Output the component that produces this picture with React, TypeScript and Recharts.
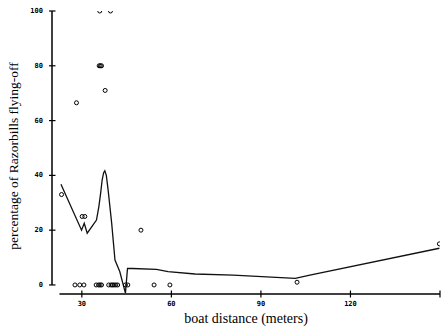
import { ComposedChart, Line, Scatter, XAxis, YAxis } from 'recharts'

// observed flights (open circles)
const obsDistance = [
  23.2, 28.2, 36.0, 39.6, 35.8, 36.2, 36.6, 37.8, 30.1, 31.0, 49.8, 149.8, 102.1,
  27.7, 29.3, 30.7, 34.8, 35.6, 36.1, 36.6, 39.0, 39.8, 40.3, 40.8, 41.4, 42.0,
  44.6, 45.4, 54.2, 59.5,
]
const obsPercent = [
  33, 66.5, 100, 100, 80, 80, 80, 71, 25, 25, 20, 15, 1,
  0, 0, 0, 0, 0, 0, 0, 0, 0, 0, 0, 0, 0,
  0, 0, 0, 0,
]

// smoothed curve
const fitDistance = [
  23.0, 29.9, 30.8, 31.8, 34.9, 35.7, 36.3, 36.8, 37.3, 37.7, 38.2, 38.8, 40.0, 40.7,
  41.1, 42.7, 44.6, 45.3, 47.0, 55.0, 58.9, 67.9, 80.7, 101.5, 106.4, 149.8,
]
const fitPercent = [
  36.8, 20.0, 22.5, 18.9, 23.7, 28.6, 33.5, 38.3, 41.0, 41.7, 40.0, 34.7, 22.5, 14.0,
  9.1, 4.9, -3.0, 6.0, 6.0, 5.7, 4.9, 4.0, 3.6, 2.4, 3.6, 13.4,
]

const xDomain = [20, 150]
const yDomain = [-3.3, 100]
const xAxisStart = 22.5

const xTicks = [30, 60, 90, 120, 150]
const xTickLabels = ['30', '60', '90', '120', '']
const yTicks = [0, 20, 40, 60, 80, 100]
const yTickLabels = ['0', '20', '40', '60', '80', '100']

const points = obsDistance.map((x, i) => ({ x, y: obsPercent[i] }))
const curve = fitDistance.map((x, i) => ({ x, y: fitPercent[i] }))

const tickFont = { fontFamily: 'DejaVu Sans Mono', fontWeight: 'bold' as const, fontSize: 7 }

function XTick(props: any) {
  const { x, y, payload } = props
  const label = xTickLabels[xTicks.indexOf(payload.value)]
  return (
    <g>
      <path d={`M${x},${y - 3.5}V${y + 3.5}`} stroke="#000" strokeWidth={1.2} />
      <text x={x} y={y + 10} textAnchor="middle" dominantBaseline="central" fill="#000" {...tickFont}>
        {label}
      </text>
    </g>
  )
}

function YTick(props: any) {
  const { x, y, payload } = props
  const label = yTickLabels[yTicks.indexOf(payload.value)]
  return (
    <g>
      <path d={`M${x - 3},${y}H${x + 3.5}`} stroke="#000" strokeWidth={1.2} />
      <text x={x - 9} y={y} textAnchor="end" dominantBaseline="central" fill="#000" {...tickFont}>
        {label}
      </text>
    </g>
  )
}

// x axis line (starts a little right of the y axis) + title
function XTitle(props: any) {
  const vb = props.viewBox
  const x0 = vb.x + (vb.width * (xAxisStart - xDomain[0])) / (xDomain[1] - xDomain[0])
  return (
    <g>
      <path d={`M${x0},${vb.y}H${vb.x + vb.width}`} stroke="#000" strokeWidth={1.5} fill="none" />
      <text
        x={vb.x + vb.width / 2}
        y={vb.y + 29}
        textAnchor="middle"
        fill="#000"
        fontSize={14}
        fontFamily="Liberation Serif"
      >
        boat distance (meters)
      </text>
    </g>
  )
}

// y axis line (from 0 to 100 only) + title
function YTitle(props: any) {
  const vb = props.viewBox
  const ax = vb.x + vb.width
  const y0 = vb.y + (vb.height * (yDomain[1] - 0)) / (yDomain[1] - yDomain[0])
  return (
    <g>
      <path d={`M${ax},${vb.y}V${y0}`} stroke="#000" strokeWidth={1.5} fill="none" />
      <text
        x={13}
        y={156}
        transform="rotate(-90, 13, 156)"
        textAnchor="middle"
        dominantBaseline="central"
        fill="#000"
        fontSize={13.5}
        fontFamily="Liberation Serif"
      >
        percentage of Razorbills flying-off
      </text>
    </g>
  )
}

const Ring = (props: any) => (
  <circle cx={props.cx} cy={props.cy} r={2} fill="none" stroke="#000" strokeWidth={1} />
)

export default function App() {
  return (
    <div style={{ position: 'absolute', left: 0, top: 0, background: '#fff' }}>
      <ComposedChart width={442} height={334} margin={{ top: 11, right: 2, left: 0, bottom: 0 }}>
        <XAxis
          type="number"
          dataKey="x"
          domain={xDomain}
          allowDataOverflow
          ticks={xTicks}
          tick={<XTick />}
          tickSize={0}
          tickMargin={0}
          tickLine={false}
          axisLine={false}
          height={40}
          interval={0}
          label={{ content: (p: any) => <XTitle {...p} /> }}
        />
        <YAxis
          type="number"
          dataKey="y"
          domain={yDomain}
          allowDataOverflow
          ticks={yTicks}
          tick={<YTick />}
          tickSize={0}
          tickMargin={0}
          tickLine={false}
          axisLine={false}
          width={52}
          interval={0}
          label={{ content: (p: any) => <YTitle {...p} /> }}
        />
        <Line
          data={curve}
          dataKey="y"
          type="linear"
          stroke="#111"
          strokeWidth={1.3}
          dot={false}
          activeDot={false}
          isAnimationActive={false}
        />
        <Scatter data={points} dataKey="y" shape={<Ring />} isAnimationActive={false} />
      </ComposedChart>
    </div>
  )
}
